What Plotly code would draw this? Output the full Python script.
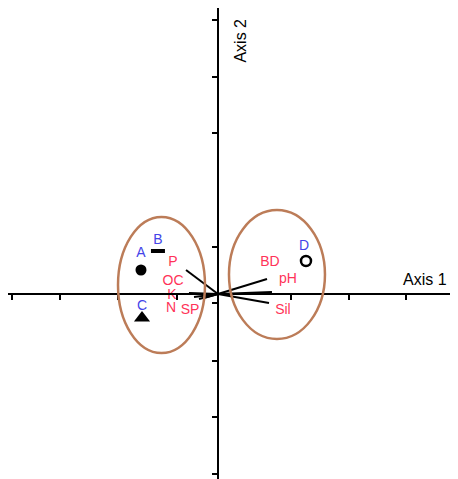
import plotly.graph_objects as go

# ---- data (ordination units) ----
sites = ["A", "B", "C", "D"]
site_x = [-1.351, -1.053, -1.333, 1.544]
site_y = [0.421, 0.754, -0.421, 0.579]
site_label_x = [-1.351, -1.053, -1.333, 1.509]
site_label_y = [0.719, 0.947, -0.228, 0.825]

species = ["P", "OC", "K", "N", "SP", "BD", "pH", "Sil"]
vec_x = [-0.561, -0.509, -0.421, -0.333, -0.246, 0.860, 0.947, 0.895]
vec_y = [0.421, 0.018, -0.053, -0.088, -0.070, 0.263, 0.035, -0.158]
lab_x = [-0.789, -0.789, -0.807, -0.825, -0.491, 0.912, 1.228, 1.140]
lab_y = [0.544, 0.228, -0.018, -0.263, -0.281, 0.561, 0.263, -0.281]

# groups: (center x, center y, semi x, semi y)
groups = [(-0.991, 0.158, 0.763, 1.193), (1.035, 0.342, 0.842, 1.132)]

x_ticks = [-3.614, -2.772, -1.754, -0.719, 1.281, 2.298, 3.298, 4.175]
y_ticks = [4.807, 3.807, 2.825, 0.825, -0.158, -1.175, -2.158, -3.158]

x_range = [-3.684, 4.211]
y_range = [-3.246, 5.018]

W, H = 450, 471
RED = "#FF3358"
BLUE = "#4444E8"
BROWN = "#BC7C58"
FONT = "Liberation Sans, Arial, sans-serif"

fig = go.Figure()

# vectors
vx, vy = [], []
for x, y in zip(vec_x, vec_y):
    vx += [0, x, None]
    vy += [0, y, None]
fig.add_trace(go.Scatter(x=vx, y=vy, mode="lines",
                         line=dict(color="black", width=2), hoverinfo="skip"))

# ellipses
for cx, cy, rx, ry in groups:
    fig.add_shape(type="circle", xref="x", yref="y",
                  x0=cx - rx, x1=cx + rx, y0=cy - ry, y1=cy + ry,
                  line=dict(color=BROWN, width=2.5))

# site markers
symbols = ["circle", "line-ew", "triangle-up", "circle-open"]
sizes = [11, 10, 14, 10]
lw = [0, 4, 0, 2.5]
for i in range(len(sites)):
    fig.add_trace(go.Scatter(x=[site_x[i]], y=[site_y[i]], mode="markers",
                             marker=dict(symbol=symbols[i], size=sizes[i], color="black",
                                         line=dict(color="black", width=lw[i]))))

fig.add_trace(go.Scatter(x=site_label_x, y=site_label_y, mode="text", text=sites,
                         textfont=dict(color=BLUE, size=14, family=FONT)))
fig.add_trace(go.Scatter(x=lab_x, y=lab_y, mode="text", text=species,
                         textfont=dict(color=RED, size=14, family=FONT)))

xpos = (0 - y_range[0]) / (y_range[1] - y_range[0])
ypos = (0 - x_range[0]) / (x_range[1] - x_range[0])

fig.update_layout(
    width=W, height=H, margin=dict(l=0, r=0, t=0, b=0),
    plot_bgcolor="white", paper_bgcolor="white", showlegend=False,
    xaxis=dict(range=x_range, anchor="free", position=xpos, showgrid=False,
               zeroline=False, showline=True, linecolor="black", linewidth=2,
               ticks="outside", ticklen=5, tickwidth=2, tickcolor="black",
               tickvals=x_ticks, showticklabels=False),
    yaxis=dict(range=y_range, anchor="free", position=ypos, showgrid=False,
               zeroline=False, showline=True, linecolor="black", linewidth=2,
               ticks="outside", ticklen=5, tickwidth=2, tickcolor="black",
               tickvals=y_ticks, showticklabels=False),
    annotations=[
        dict(x=3.63, y=0.25, xref="x", yref="y", text="Axis 1", showarrow=False,
             font=dict(size=16, color="black", family=FONT)),
        dict(x=0.39, y=4.45, xref="x", yref="y", text="Axis 2", showarrow=False,
             textangle=-90, font=dict(size=16, color="black", family=FONT)),
    ],
)

fig.write_html("out.html")
